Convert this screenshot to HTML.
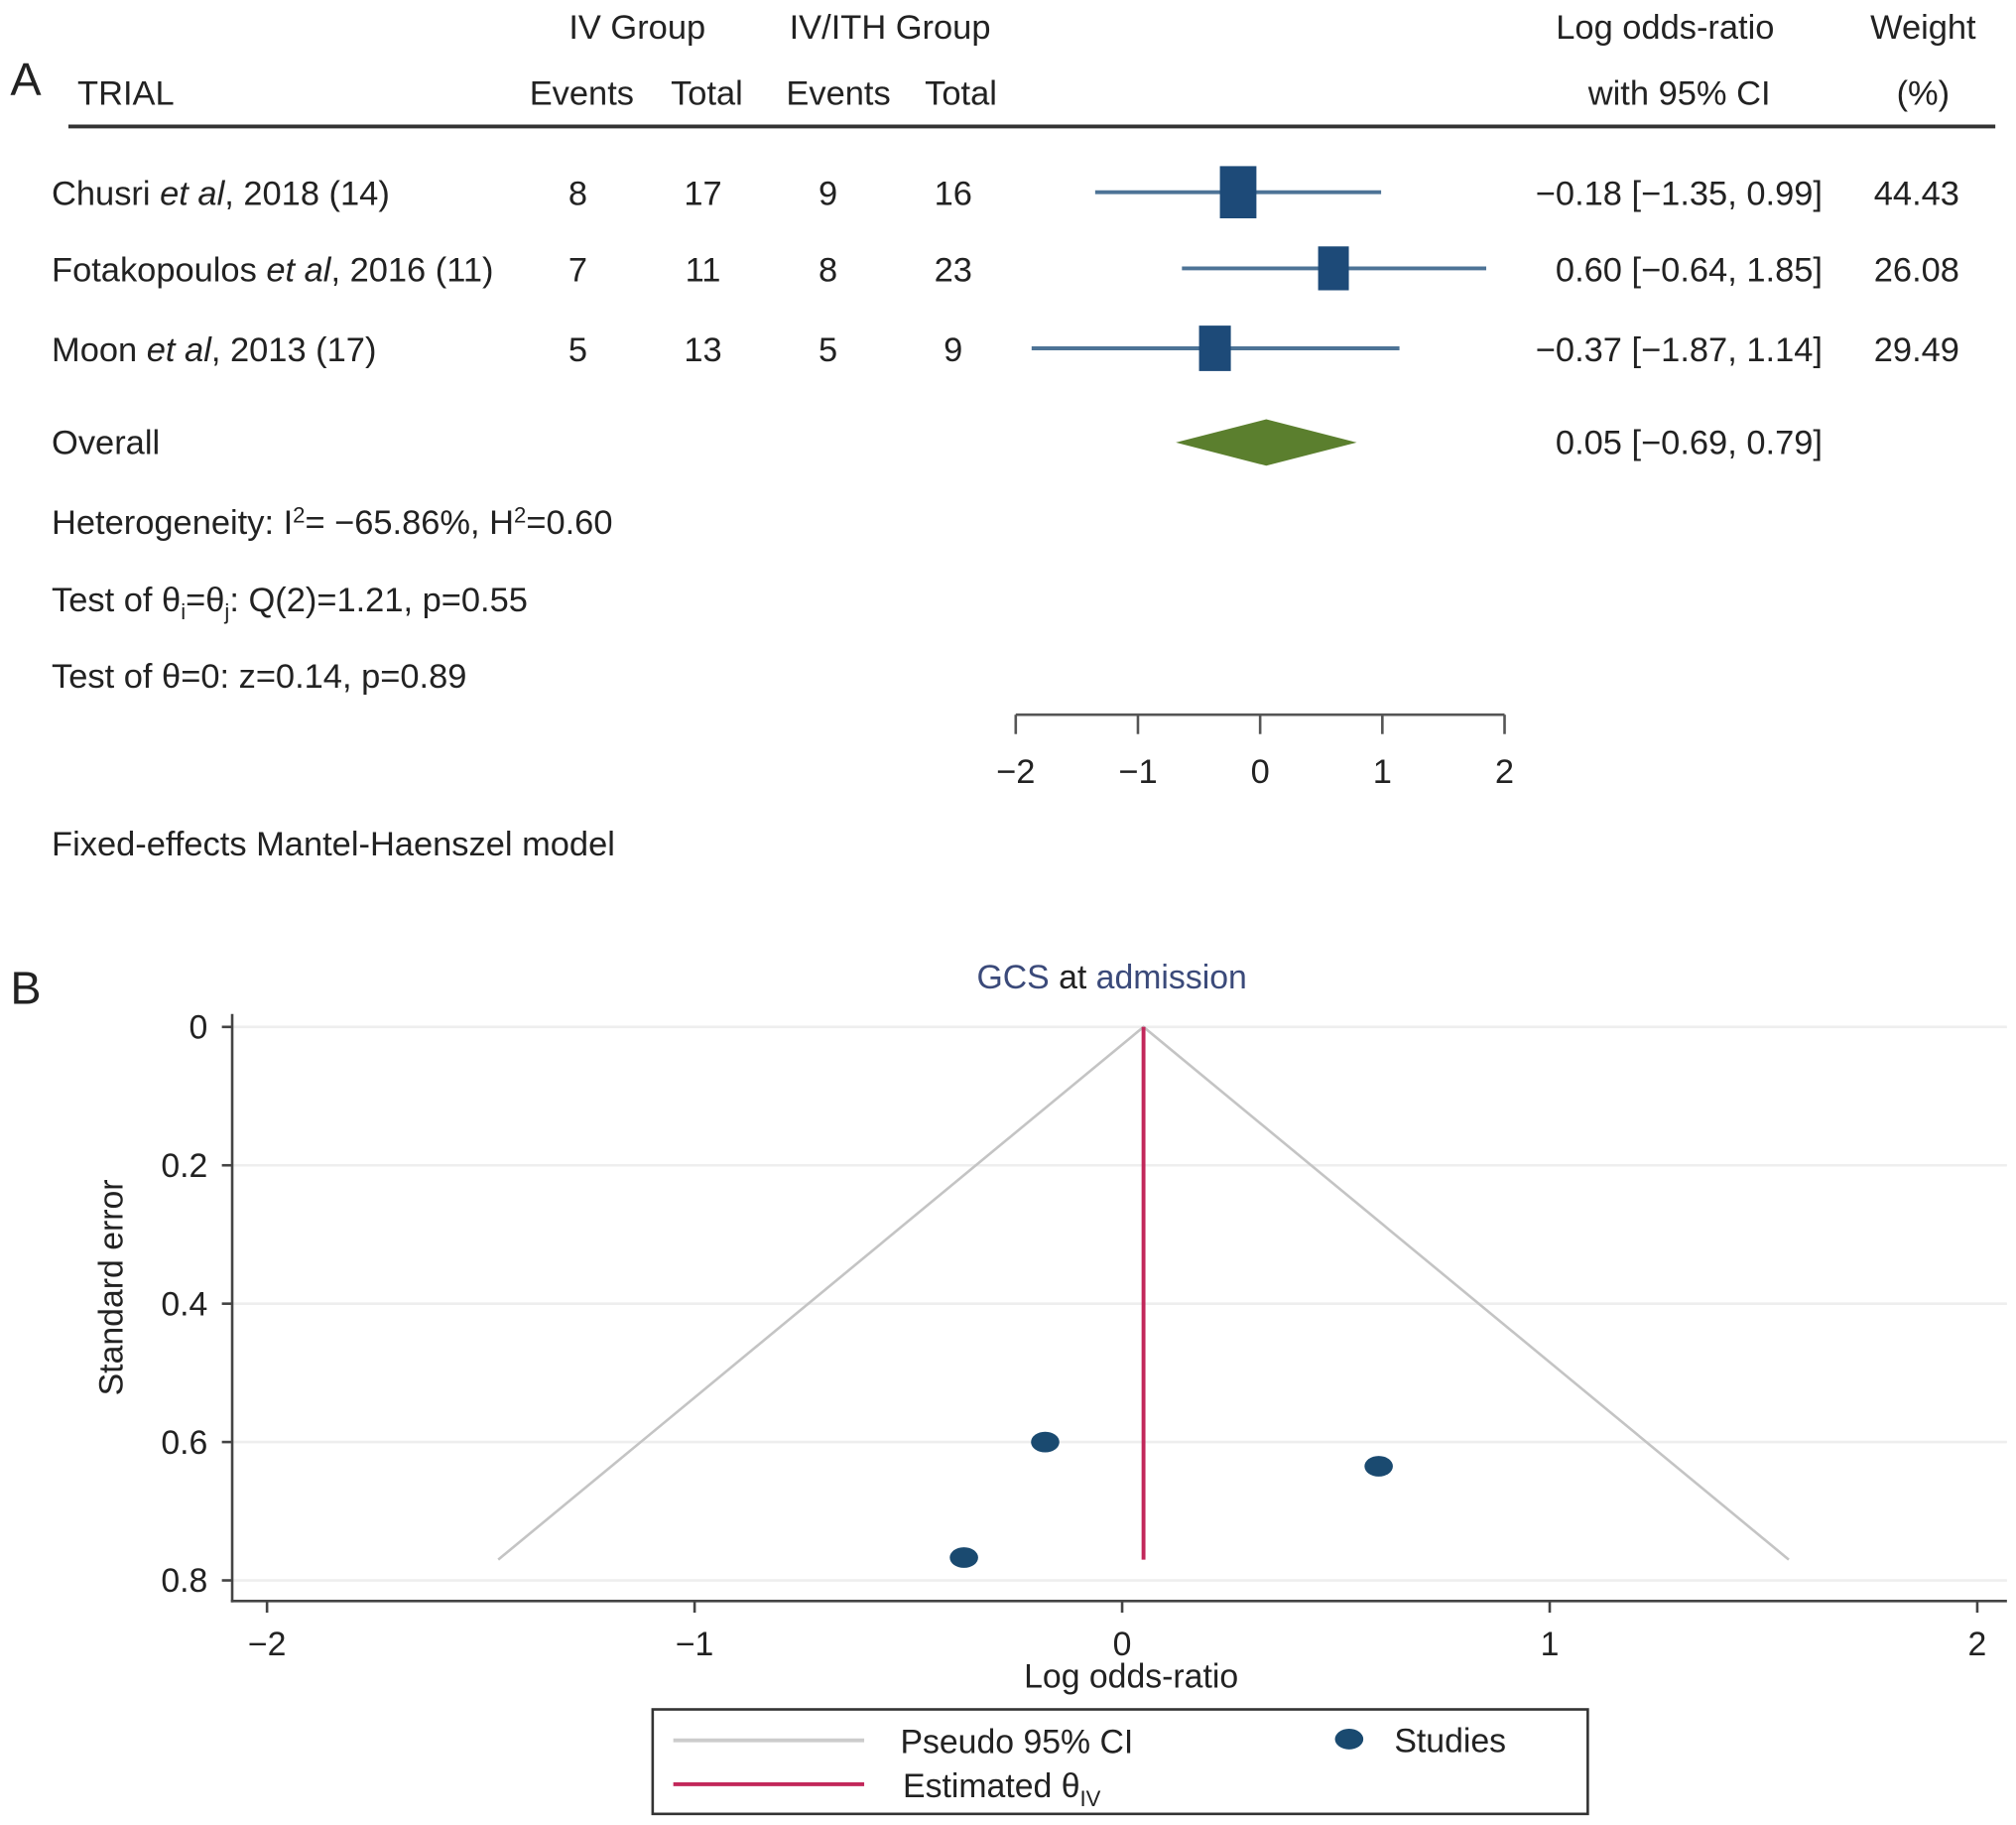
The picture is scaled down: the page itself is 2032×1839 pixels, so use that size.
<!DOCTYPE html>
<html><head><meta charset="utf-8"><style>
html,body{margin:0;padding:0;background:#fff}
svg{display:block;font-family:"Liberation Sans",Arial,sans-serif}
</style></head><body>
<svg id="fig" width="2032" height="1839" viewBox="0 0 1563 1414.6" xmlns="http://www.w3.org/2000/svg">
<rect width="1563" height="1415" fill="#fff"/>
<g id="panelA" font-size="26.5" fill="#222">
<text x="8" y="74" font-size="36">A</text>
<text x="494" y="30" text-anchor="middle">IV Group</text>
<text x="690" y="30" text-anchor="middle">IV/ITH Group</text>
<text x="1291" y="30" text-anchor="middle">Log odds-ratio</text>
<text x="1491" y="30" text-anchor="middle">Weight</text>
<text x="60" y="81">TRIAL</text>
<text x="451" y="81" text-anchor="middle">Events</text>
<text x="548" y="81" text-anchor="middle">Total</text>
<text x="650" y="81" text-anchor="middle">Events</text>
<text x="745" y="81" text-anchor="middle">Total</text>
<text x="1302" y="81" text-anchor="middle">with 95% CI</text>
<text x="1491" y="81" text-anchor="middle">(%)</text>
<line x1="53" y1="98" x2="1547" y2="98" stroke="#333" stroke-width="3"/>
<g id="rows"></g>
<text x="40" y="352">Overall</text>
<text x="1413" y="352" text-anchor="end">0.05 [−0.69, 0.79]</text>
<text x="40" y="414">Heterogeneity: I<tspan dy="-9" font-size="17">2</tspan><tspan dy="9">= −65.86%, H</tspan><tspan dy="-9" font-size="17">2</tspan><tspan dy="9">=0.60</tspan></text>
<text x="40" y="474">Test of θ<tspan dy="6" font-size="17">i</tspan><tspan dy="-6">=θ</tspan><tspan dy="6" font-size="17">j</tspan><tspan dy="-6">: Q(2)=1.21, p=0.55</tspan></text>
<text x="40" y="533">Test of θ=0: z=0.14, p=0.89</text>
<text x="40" y="663">Fixed-effects Mantel-Haenszel model</text>
<g id="faxis"></g>
</g>
<g id="panelB" font-size="26" fill="#222">
<text x="8" y="778" font-size="36">B</text>
<text x="862" y="766" text-anchor="middle"><tspan fill="#3b4a7a">GCS</tspan> at <tspan fill="#3b4a7a">admission</tspan></text>
<g id="funnel"></g>
<text x="877" y="1308" text-anchor="middle">Log odds-ratio</text>
<text transform="translate(95,998) rotate(-90)" text-anchor="middle">Standard error</text>
<g>
<rect x="506" y="1325" width="725" height="81" fill="#fff" stroke="#333" stroke-width="2"/>
<line x1="522" y1="1349" x2="670" y2="1349" stroke="#ccc" stroke-width="3"/>
<text x="698" y="1359">Pseudo 95% CI</text>
<line x1="522" y1="1383" x2="670" y2="1383" stroke="#c2275a" stroke-width="3"/>
<text x="700" y="1393">Estimated θ<tspan dy="7" font-size="17">IV</tspan></text>
<ellipse cx="1046" cy="1348" rx="11" ry="8" fill="#1a4a70"/>
<text x="1081" y="1358">Studies</text>
</g>
</g>
</svg>
<script>
const NS="http://www.w3.org/2000/svg";
const studies=["Chusri et al, 2018 (14)","Fotakopoulos et al, 2016 (11)","Moon et al, 2013 (17)"];
const ivEvents=[8,7,5];
const ivTotal=[17,11,13];
const ithEvents=[9,8,5];
const ithTotal=[16,23,9];
const logOR=[-0.18,0.60,-0.37];
const ciLow=[-1.35,-0.64,-1.87];
const ciHigh=[0.99,1.85,1.14];
const weights=[44.43,26.08,29.49];
const overall=[0.05,-0.69,0.79];
const forestTicks=[-2,-1,0,1,2];
const funnelSE=[0.60,0.635,0.767];
const seTicks=[0,0.2,0.4,0.6,0.8];
const lorTicks=[-2,-1,0,1,2];
const seMax=0.77;

function mk(tag,attrs,parent,txt){const e=document.createElementNS(NS,tag);for(const k in attrs)e.setAttribute(k,attrs[k]);if(txt!==undefined)e.textContent=txt;parent.appendChild(e);return e;}
const fx=v=>977+v*94.75;
const rowY=[149,208,270];
const rows=document.getElementById('rows');
function fmt(v){return (v<0?'−':'')+Math.abs(v).toFixed(2);}
studies.forEach((s,i)=>{
  const y=rowY[i],b=y+10;
  const parts=s.split(' et al');
  const t=mk('text',{x:40,y:b},rows);
  
  
  mk('tspan',{},t,parts[0]+' ');mk('tspan',{'font-style':'italic'},t,'et al');mk('tspan',{},t,parts[1]);
  [[ivEvents,448],[ivTotal,545],[ithEvents,642],[ithTotal,739]].forEach(([arr,x])=>{
    const c=mk('text',{x:x,y:b,'text-anchor':'middle'},rows,String(arr[i]));
    
    
  });
  const ci=mk('text',{x:1413,y:b,'text-anchor':'end'},rows,fmt(logOR[i])+' ['+fmt(ciLow[i])+', '+fmt(ciHigh[i])+']');
  
  
  const w=mk('text',{x:1486,y:b,'text-anchor':'middle'},rows,weights[i].toFixed(2));
  
  
  const l=mk('line',{x1:fx(ciLow[i]),x2:fx(ciHigh[i]),y1:y,y2:y,stroke:'#4d7396','stroke-width':3},rows);
  
  
  const h=34+(weights[i]-26)*0.35, wd=h*0.7;
  const r=mk('rect',{x:fx(logOR[i])-wd/2,y:y-h/2,width:wd,height:h,fill:'#1d4a78'},rows);
  
  
});
const d=mk('polygon',{points:`${fx(overall[1])},343 ${fx(overall[0])},325 ${fx(overall[2])},343 ${fx(overall[0])},361`,fill:'#5b7f2e'},rows);


const fa=document.getElementById('faxis');
const al=mk('line',{x1:fx(forestTicks[0]),x2:fx(forestTicks[forestTicks.length-1]),y1:554,y2:554,stroke:'#555','stroke-width':2},fa);


forestTicks.forEach(t=>{
  const k=mk('line',{x1:fx(t),x2:fx(t),y1:554,y2:569,stroke:'#555','stroke-width':2},fa);
  
  
  const lb=mk('text',{x:fx(t),y:607,'text-anchor':'middle'},fa,(t<0?'−':'')+Math.abs(t));
  
  
});
const bx=v=>870+v*331.5, by=v=>796+v*536.25;
const fn=document.getElementById('funnel');
seTicks.forEach(t=>{
  const g=mk('line',{x1:181,x2:1556,y1:by(t),y2:by(t),stroke:'#eeeeee','stroke-width':2},fn);
  
  
  const k=mk('line',{x1:172,x2:180,y1:by(t),y2:by(t),stroke:'#444','stroke-width':2},fn);
  
  
  const lb=mk('text',{x:161,y:by(t)+9,'text-anchor':'end'},fn,String(t));
  
  
});
lorTicks.forEach(t=>{
  const k=mk('line',{x1:bx(t),x2:bx(t),y1:1241,y2:1250,stroke:'#444','stroke-width':2},fn);
  
  
  const lb=mk('text',{x:bx(t),y:1283,'text-anchor':'middle'},fn,(t<0?'−':'')+Math.abs(t));
  
  
});
const ya=mk('line',{x1:180,x2:180,y1:786,y2:1242,stroke:'#444','stroke-width':2},fn);


const xa=mk('line',{x1:179,x2:1556,y1:1241,y2:1241,stroke:'#444','stroke-width':2},fn);


const est=overall[0];
const fl=mk('polyline',{points:`${bx(est-1.96*seMax)},${by(seMax)} ${bx(est)},${by(0)} ${bx(est+1.96*seMax)},${by(seMax)}`,fill:'none',stroke:'#c4c4c4','stroke-width':2},fn);


const rl=mk('line',{x1:bx(est),x2:bx(est),y1:by(0),y2:by(seMax),stroke:'#c2275a','stroke-width':3},fn);


logOR.forEach((v,i)=>{
  const p=mk('ellipse',{cx:bx(v),cy:by(funnelSE[i]),rx:11,ry:8,fill:'#1a4a70'},fn);
  
  
});
</script>
</body></html>
